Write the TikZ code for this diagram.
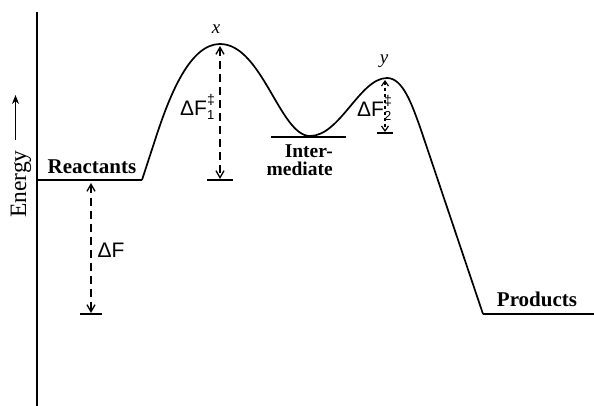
\documentclass[tikz,border=0pt]{standalone}
\usepackage{fontspec}
\setmainfont{Liberation Serif}
\setsansfont{Liberation Sans}
\usetikzlibrary{arrows.meta}
\begin{document}
\begin{tikzpicture}[x=1pt,y=-1pt,
  level/.style={line width=2.6pt},
  curve/.style={line width=1.7pt},
  barb/.tip={Straight Barb[length=7pt,width=8pt,line width=1.3pt]},
  sbarb/.tip={Straight Barb[length=5pt,width=7pt,line width=1.2pt]},
  dimline/.style={line width=1.3pt, dash pattern=on 8pt off 5pt, barb-barb},
  tickline/.style={line width=1.1pt},
  lab/.style={font=\bfseries\fontsize{21}{22}\selectfont, inner sep=0pt},
  dlab/.style={font=\sffamily\fontsize{21}{22}\selectfont, inner sep=0pt}
]
\useasboundingbox (0,0) rectangle (594,406);
% axis
\coordinate (ax0) at (37,12);
\coordinate (ax1) at (37,406);
\draw[line width=1.6pt] (ax0) -- (ax1);
\node[rotate=90, anchor=base, font=\fontsize{23.5}{25}\selectfont, inner sep=0pt] (en) at (26,184) {Energy};
\coordinate (enStart) at (15.5,140);
\coordinate (enTip) at (15.5,95);
\draw[line width=1.2pt, -{Stealth[length=9pt,width=7pt]}] (enStart) -- (enTip);
% levels
\coordinate (R0) at (37,180);
\coordinate (R1) at (142,180);
\coordinate (Xp) at (220,44);
\coordinate (M) at (310,136);
\coordinate (Yp) at (387,78);
\coordinate (Dn) at (420,127);
\coordinate (P0) at (483,314);
\coordinate (P1) at (594,314);
\coordinate (I0) at (271,137);
\coordinate (I1) at (346,137);
\draw[level] (R0) -- (R1);
\draw[level] (P0) -- (P1);
\draw[level] (I0) -- (I1);
\draw[curve, line join=round] (R1) -- (157,134)
  .. controls (170,95) and (190,44) .. (Xp)
  .. controls (262,44) and (280,136) .. (M)
  .. controls (340,136) and (360,78) .. (Yp)
  .. controls (403,78) and (412,105) .. (Dn)
  -- (P0);
% labels
\node[lab, anchor=base] (rl) at (92,174) {Reactants};
\node[lab, anchor=base] (pl) at (537,306) {Products};
\node[lab, align=right, anchor=north east, font=\bfseries\fontsize{19.5}{18}\selectfont] (il) at (333,145) {Inter-\\mediate};
\node[font=\itshape\fontsize{19}{20}\selectfont, inner sep=0pt] (xl) at (216,29) {x};
\node[font=\itshape\fontsize{19}{20}\selectfont, inner sep=0pt] (yl) at (384,61) {y};
% Delta F
\coordinate (dFa) at (91,183);
\coordinate (dFb) at (91,313);
\coordinate (tF0) at (80,314);
\coordinate (tF1) at (102,314);
\draw[dimline] (dFa) -- (dFb);
\draw[tickline] (tF0) -- (tF1);
\node[dlab] (dFl) at (111,250) {ΔF};
% Delta F1
\coordinate (d1a) at (220,46);
\coordinate (d1b) at (220,179);
\coordinate (t10) at (207,180);
\coordinate (t11) at (233,180);
\draw[dimline] (d1a) -- (d1b);
\draw[tickline] (t10) -- (t11);
\node[dlab, anchor=base west] (d1l) at (180,116) {ΔF\rlap{\raisebox{1.05ex}{\fontsize{14}{14}\selectfont ‡}}\raisebox{-0.35ex}{\fontsize{13}{13}\selectfont 1}};
% Delta F2
\coordinate (d2a) at (385,80);
\coordinate (d2b) at (385,132);
\coordinate (t20) at (377,133);
\coordinate (t21) at (393,133);
\draw[line width=1.2pt, dash pattern=on 3pt off 3pt, sbarb-sbarb] (d2a) -- (d2b);
\draw[tickline] (t20) -- (t21);
\node[dlab, anchor=base west] (d2l) at (357,117) {ΔF\rlap{\raisebox{1.05ex}{\fontsize{14}{14}\selectfont ‡}}\raisebox{-0.35ex}{\fontsize{13}{13}\selectfont 2}};
\end{tikzpicture}
\end{document}
